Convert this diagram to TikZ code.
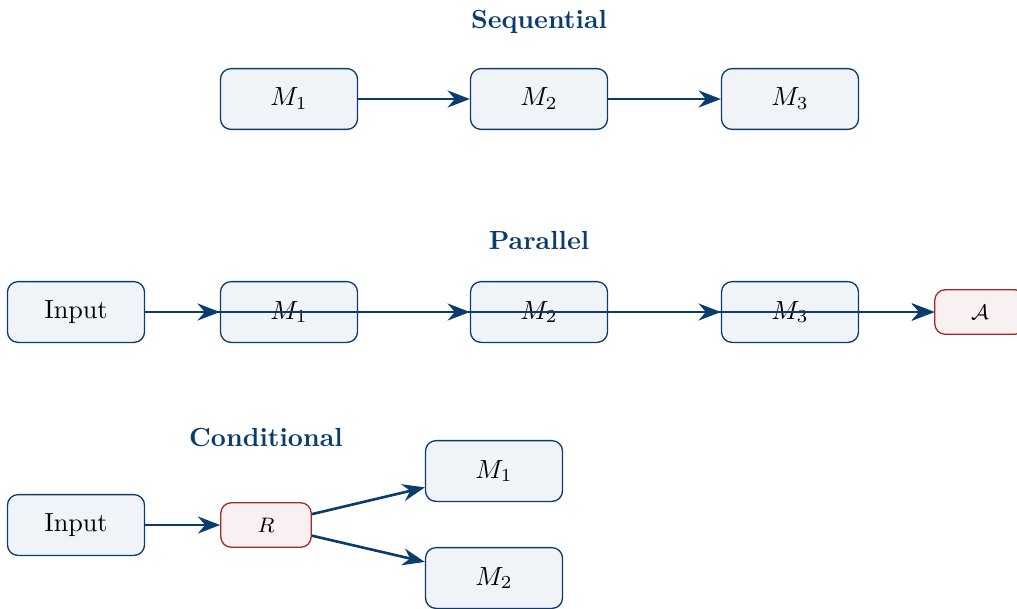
\documentclass[tikz,border=0pt]{standalone}
\usetikzlibrary{arrows.meta}
\definecolor{navy}{HTML}{0B3C6E}
\definecolor{boxfill}{HTML}{F0F4F8}
\definecolor{redline}{HTML}{A42A2A}
\definecolor{redfill}{HTML}{F9F0F1}
\tikzset{
  mbox/.style={draw=navy, fill=boxfill, rounded corners=4pt, minimum width=52.3pt, minimum height=23.2pt, inner sep=0pt, line width=0.5pt},
  rbox/.style={draw=redline, fill=redfill, rounded corners=4pt, minimum width=34.5pt, minimum height=17pt, inner sep=0pt, line width=0.5pt, font=\footnotesize},
  ttl/.style={text=navy, font=\bfseries},
  conn/.style={draw=navy, line width=1pt, -{Stealth[length=8.5pt,width=6.5pt]}}
}
\begin{document}
\begin{tikzpicture}[x=0.38168pt, y=-0.38168pt]
\useasboundingbox (0,0) rectangle (1017,608);
% Sequential
\node[ttl] (t1) at (539,22) {Sequential};
\node[mbox] (s1) at (289,99) {$M_1$};
\node[mbox] (s2) at (539,99) {$M_2$};
\node[mbox] (s3) at (790,99) {$M_3$};
\draw[conn] (s1) -- (s2);
\draw[conn] (s2) -- (s3);
% Parallel
\node[ttl] (t2) at (539,240) {Parallel};
\node[mbox] (pin) at (76,312) {Input};
\node[mbox] (p1) at (289,312) {$M_1$};
\node[mbox] (p2) at (539,312) {$M_2$};
\node[mbox] (p3) at (790,312) {$M_3$};
\node[rbox] (pa) at (980,312) {$\mathcal{A}$};
\draw[conn] (pin) -- (p1);
\draw[conn] (pin) -- (p2);
\draw[conn] (pin) -- (p3);
\draw[conn] (p1) -- (pa);
\draw[conn] (p2) -- (pa);
\draw[conn] (p3) -- (pa);
% Conditional
\node[ttl] (t3) at (266,437) {Conditional};
\node[mbox] (cin) at (76,525) {Input};
\node[rbox] (cr) at (266,525) {$R$};
\node[mbox] (c1) at (494,471) {$M_1$};
\node[mbox] (c2) at (494,578) {$M_2$};
\draw[conn] (cin) -- (cr);
\draw[conn] (cr) -- (c1);
\draw[conn] (cr) -- (c2);
\end{tikzpicture}
\end{document}
